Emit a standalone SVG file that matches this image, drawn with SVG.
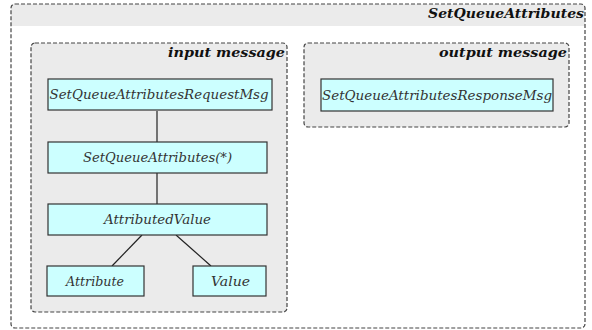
<svg xmlns="http://www.w3.org/2000/svg" width="592" height="330" viewBox="0 0 592 330">
<style>
.frame{stroke:#444;stroke-width:1.2;stroke-dasharray:4 2}
.title{font-family:"DejaVu Serif",serif;font-style:italic;font-weight:bold;font-size:12px;fill:#111;text-anchor:end}
.node rect{fill:#ccffff;stroke:#333;stroke-width:1.2}
.node text{font-family:"DejaVu Serif",serif;font-style:italic;font-size:12px;fill:#333;text-anchor:middle}
.conn line{stroke:#222;stroke-width:1.2}
</style>
<rect width="592" height="330" fill="#fff"/>
<g id="SetQueueAttributes">
<path d="M11,26 V8 a4,4 0 0 1 4,-4 H581 a4,4 0 0 1 4,4 V26 Z" fill="#ebebeb"/>
<rect x="11" y="4" width="574" height="324" rx="4" fill="none" class="frame"/>
<text class="title" x="584" y="18" textLength="156" lengthAdjust="spacingAndGlyphs">SetQueueAttributes</text>
</g>
<g id="input_message">
<rect x="31" y="43" width="256" height="269" rx="4" fill="#ebebeb" class="frame"/>
<text class="title" x="285" y="57" textLength="117" lengthAdjust="spacingAndGlyphs">input message</text>
</g>
<g id="output_message">
<rect x="304" y="43" width="265" height="84" rx="4" fill="#ebebeb" class="frame"/>
<text class="title" x="567" y="57" textLength="128" lengthAdjust="spacingAndGlyphs">output message</text>
</g>
<g class="conn" id="connectors">
<line x1="157" y1="111" x2="157" y2="142"/>
<line x1="157" y1="173" x2="157" y2="204"/>
<line x1="142" y1="235" x2="112" y2="266"/>
<line x1="176" y1="235" x2="211" y2="266"/>
</g>
<g class="node" id="SetQueueAttributesRequestMsg">
<rect x="48" y="79" width="224" height="31"/>
<text x="159" y="99" textLength="219" lengthAdjust="spacingAndGlyphs">SetQueueAttributesRequestMsg</text>
</g>
<g class="node" id="SetQueueAttributesStar">
<rect x="48" y="142" width="219" height="31"/>
<text x="157.5" y="162" textLength="149" lengthAdjust="spacingAndGlyphs">SetQueueAttributes(*)</text>
</g>
<g class="node" id="AttributedValue">
<rect x="48" y="204" width="219" height="31"/>
<text x="157.5" y="224" textLength="107" lengthAdjust="spacingAndGlyphs">AttributedValue</text>
</g>
<g class="node" id="Attribute">
<rect x="47" y="266" width="97" height="30"/>
<text x="95" y="286" textLength="58" lengthAdjust="spacingAndGlyphs">Attribute</text>
</g>
<g class="node" id="Value">
<rect x="193" y="266" width="73" height="30"/>
<text x="230.5" y="286" textLength="39" lengthAdjust="spacingAndGlyphs">Value</text>
</g>
<g class="node" id="SetQueueAttributesResponseMsg">
<rect x="321" y="79" width="232" height="32"/>
<text x="437" y="100" textLength="230" lengthAdjust="spacingAndGlyphs">SetQueueAttributesResponseMsg</text>
</g>
</svg>
